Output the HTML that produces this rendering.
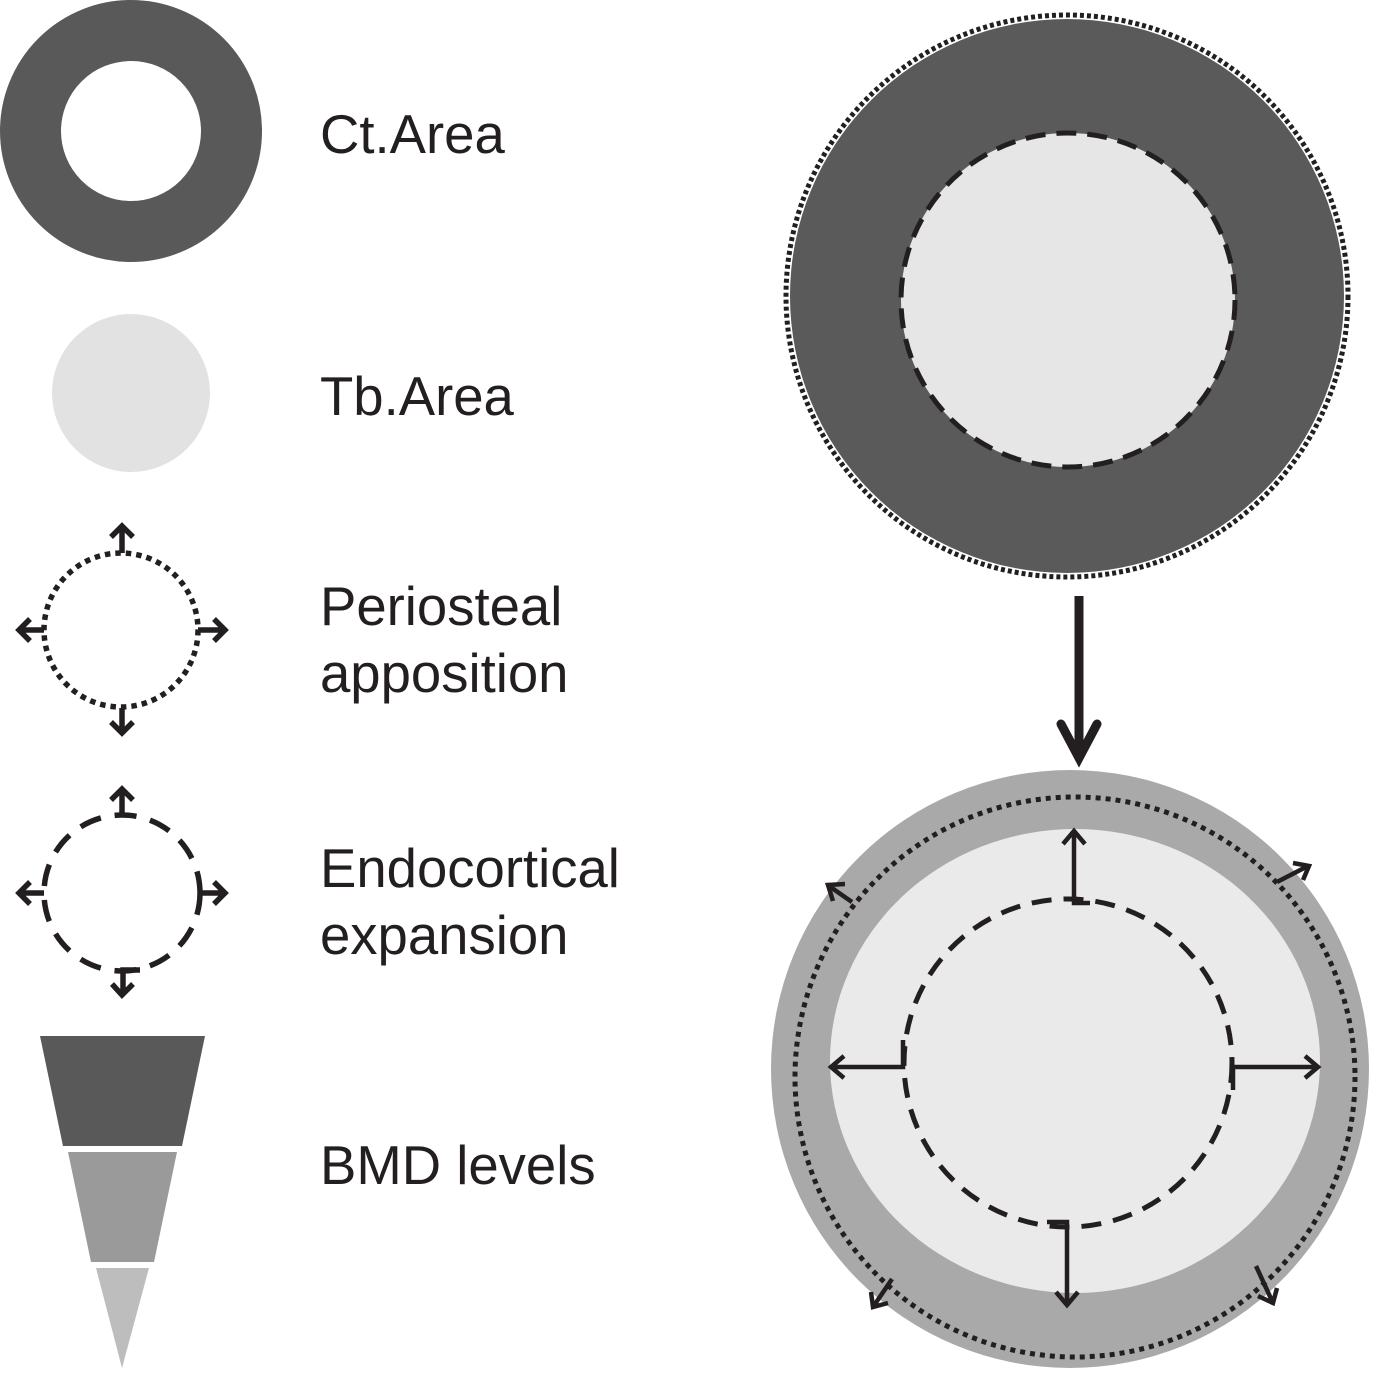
<!DOCTYPE html>
<html><head><meta charset="utf-8"><style>
html,body{margin:0;padding:0;background:#fff;}
svg{display:block;}
text{font-family:"Liberation Sans",Arial,sans-serif;font-size:54.5px;fill:#231f20;}
</style></head><body>
<svg width="1377" height="1386" viewBox="0 0 1377 1386" xmlns="http://www.w3.org/2000/svg">
<circle cx="131" cy="131" r="100.5" fill="none" stroke="#595959" stroke-width="61"/>
<circle cx="131" cy="393" r="79" fill="#e2e2e2"/>
<g stroke="#231f20" fill="none" stroke-width="5.5">
<circle cx="121" cy="630" r="77" stroke-dasharray="5.5 5"/>
<path d="M122 553 V527 M111 537 L122 526 L133 537"/>
<path d="M122 708 V732 M111 722 L122 733 L133 722"/>
<path d="M44 630 H20 M30 619 L19 630 L30 641"/>
<path d="M198 630 H224 M214 619 L225 630 L214 641"/>
</g>
<g stroke="#231f20" fill="none" stroke-width="5.5">
<circle cx="122" cy="893" r="78" stroke-dasharray="22 14"/>
<path d="M122 815 V790 M111 800 L122 789 L133 800"/>
<path d="M140 970 H123 V994 M112 984 L122 995 L133 984"/>
<path d="M44 893 H20 M30 882 L19 893 L30 904"/>
<path d="M200 893 H224 M214 882 L225 893 L214 904"/>
</g>
<polygon points="40,1036 205,1036 182,1146 63,1146" fill="#595959"/>
<polygon points="68,1152 177,1152 154,1262 91,1262" fill="#9a9a9a"/>
<polygon points="96,1268 149,1268 122,1368" fill="#bdbdbd"/>
<text x="320" y="153">Ct.Area</text>
<text x="320" y="415">Tb.Area</text>
<text x="320" y="625">Periosteal</text>
<text x="320" y="692">apposition</text>
<text x="320" y="887">Endocortical</text>
<text x="320" y="954">expansion</text>
<text x="320" y="1184">BMD levels</text>
<circle cx="1067" cy="296" r="277" fill="#5a5a5a"/>
<circle cx="1067" cy="296" r="281" fill="none" stroke="#231f20" stroke-width="5" stroke-dasharray="4 3"/>
<circle cx="1068" cy="300" r="167" fill="#e6e6e6" stroke="#231f20" stroke-width="5" stroke-dasharray="20 11"/>
<path d="M1079 596 V755" stroke="#231f20" stroke-width="9" fill="none"/>
<path d="M1061 724 L1079 758 L1097 724" stroke="#231f20" stroke-width="9" fill="none" stroke-linecap="round"/>
<circle cx="1070" cy="1069" r="299" fill="#a9a9a9"/>
<ellipse cx="1075" cy="1061" rx="245" ry="232" fill="#eaeaea"/>
<circle cx="1075" cy="1077" r="280" fill="none" stroke="#231f20" stroke-width="5" stroke-dasharray="5 5"/>
<circle cx="1068" cy="1063" r="164" fill="none" stroke="#231f20" stroke-width="5" stroke-dasharray="20 12"/>
<g stroke="#231f20" fill="none" stroke-width="4.5">
<path d="M1090 903 H1074 V831 M1063 844 L1074 831 L1085 844"/>
<path d="M903 1040 V1067 H831 M844 1056 L831 1067 L844 1078"/>
<path d="M1233 1090 V1067 H1318 M1305 1056 L1318 1067 L1305 1078"/>
<path d="M1047 1222 H1067 V1305 M1056 1292 L1067 1305 L1078 1292"/>
<path d="M852 902 L829 886 M833 901 L828 885 L845 884"/>
<path d="M1277 882 L1308 866 M1293 863 L1309 866 L1303 880"/>
<path d="M892 1279 L873 1307 M871 1292 L873 1307 L888 1303"/>
<path d="M1256 1266 L1273 1303 M1258 1296 L1273 1303 L1277 1288"/>
</g>
</svg>
</body></html>
